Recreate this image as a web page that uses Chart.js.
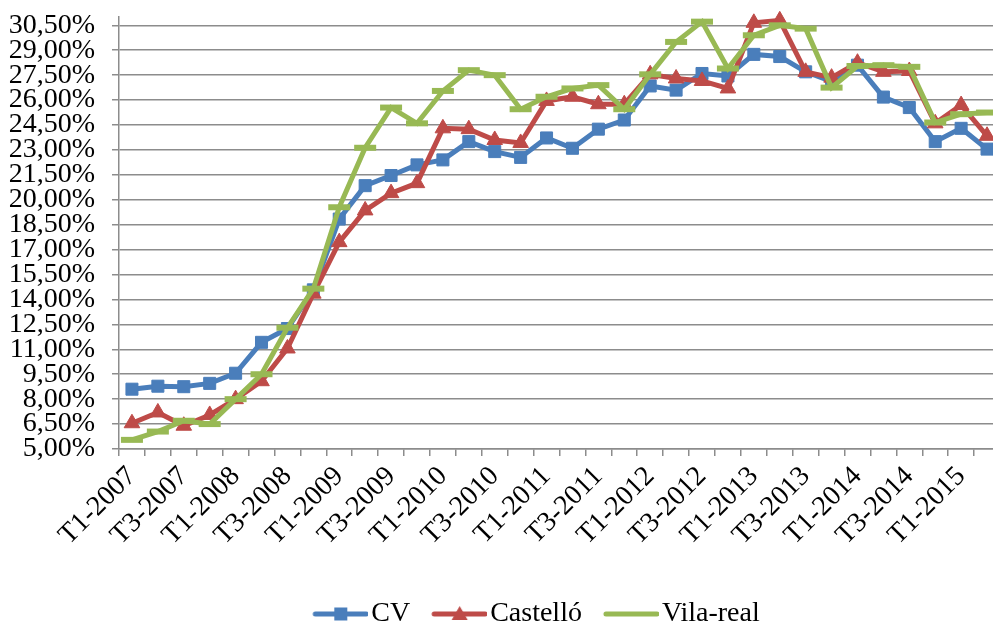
<!DOCTYPE html>
<html>
<head>
<meta charset="utf-8">
<script src="https://cdn.jsdelivr.net/npm/chart.js@4"></script>
<style>
  html, body { margin: 0; padding: 0; background: #fff; overflow: hidden; }
  #wrap { position: absolute; left: 0; top: 0; width: 1017px; height: 624px; }
</style>
</head>
<body>
<div id="wrap"><canvas id="chart" width="1017" height="624"></canvas></div>
<script>
var quarters = [
    "T1-2007", "T2-2007", "T3-2007", "T4-2007",
    "T1-2008", "T2-2008", "T3-2008", "T4-2008",
    "T1-2009", "T2-2009", "T3-2009", "T4-2009",
    "T1-2010", "T2-2010", "T3-2010", "T4-2010",
    "T1-2011", "T2-2011", "T3-2011", "T4-2011",
    "T1-2012", "T2-2012", "T3-2012", "T4-2012",
    "T1-2013", "T2-2013", "T3-2013", "T4-2013",
    "T1-2014", "T2-2014", "T3-2014", "T4-2014",
    "T1-2015", "T2-2015"
];

var cvData = [8.60, 8.78, 8.75, 8.95, 9.56, 11.42, 12.25, 14.58, 18.84, 20.85, 21.46, 22.10,
    22.40, 23.50, 22.90, 22.55, 23.72, 23.10, 24.25, 24.80, 26.85, 26.60, 27.60, 27.45,
    28.75, 28.62, 27.70, 27.12, 28.10, 26.18, 25.55, 23.50, 24.30, 23.05];

var castelloData = [6.55, 7.20, 6.40, 7.05, 8.00, 9.08, 11.05, 14.35, 17.45, 19.36, 20.40, 21.00,
    24.30, 24.25, 23.60, 23.42, 25.95, 26.20, 25.75, 25.75, 27.55, 27.30, 27.15, 26.70,
    30.65, 30.80, 27.70, 27.35, 28.25, 27.70, 27.75, 24.60, 25.70, 23.85];

var vilaData = [5.55, 6.05, 6.70, 6.50, 8.00, 9.50, 12.30, 14.65, 19.55, 23.13, 25.55, 24.60,
    26.55, 27.80, 27.50, 25.45, 26.20, 26.70, 26.90, 25.45, 27.55, 29.50, 30.72, 27.90,
    29.90, 30.50, 30.30, 26.75, 28.05, 28.10, 28.00, 24.65, 25.15, 25.25];

var yTicks = [5, 6.5, 8, 9.5, 11, 12.5, 14, 15.5, 17, 18.5, 20, 21.5, 23, 24.5, 26, 27.5, 29, 30.5];

var blue = "#4A7EBB";
var red = "#BE4B48";
var green = "#98B954";
var serif = "'Liberation Serif', 'Times New Roman', serif";

// legend swatch: line with the marker in the middle
function swatch(color, marker) {
    var c = document.createElement("canvas");
    c.width = 66;
    c.height = 22;
    var g = c.getContext("2d");
    g.strokeStyle = color;
    g.fillStyle = color;
    g.lineWidth = 5;
    g.lineCap = "round";
    g.beginPath();
    g.moveTo(13, 11);
    g.lineTo(64, 11);
    g.stroke();
    var cx = 38.5;
    if (marker === "rect") {
        g.fillRect(cx - 6.5, 11 - 6.5, 13, 13);
    } else if (marker === "triangle") {
        g.beginPath();
        g.moveTo(cx, 3);
        g.lineTo(cx + 8, 17);
        g.lineTo(cx - 8, 17);
        g.closePath();
        g.fill();
    }
    return c;
}

var legendShift = {
    id: "legendShift",
    afterLayout: function (chart) {
        var l = chart.legend;
        l.left += 28;
        l.right += 28;
        l.top += 14;
        l.bottom += 14;
    }
};

var markers = ["rect", "triangle", "line"];

new Chart(document.getElementById("chart"), {
    type: "line",
    data: {
        labels: quarters,
        datasets: [{
            label: "CV",
            data: cvData,
            borderColor: blue,
            backgroundColor: blue,
            borderWidth: 5,
            pointStyle: "rect",
            pointRadius: 8.5,
            pointBorderWidth: 1,
            order: 3,
            clip: false
        }, {
            label: "Castelló",
            data: castelloData,
            borderColor: red,
            backgroundColor: red,
            borderWidth: 5,
            pointStyle: "triangle",
            pointRadius: 9,
            pointBorderWidth: 1,
            order: 2,
            clip: false
        }, {
            label: "Vila-real",
            data: vilaData,
            borderColor: green,
            backgroundColor: green,
            borderWidth: 5,
            pointStyle: "line",
            pointRadius: 11,
            pointBorderWidth: 6,
            order: 1,
            clip: false
        }]
    },
    options: {
        responsive: false,
        animation: false,
        devicePixelRatio: 1,
        layout: { padding: { top: 13, left: 0, right: 0, bottom: 0 } },
        plugins: {
            tooltip: { enabled: false },
            legend: {
                position: "bottom",
                labels: {
                    font: { family: serif, size: 28 },
                    color: "#000",
                    usePointStyle: true,
                    pointStyleWidth: 44,
                    boxHeight: 28,
                    padding: 22,
                    generateLabels: function (chart) {
                        return chart.data.datasets.map(function (ds, i) {
                            return {
                                text: ds.label,
                                fillStyle: ds.borderColor,
                                strokeStyle: ds.borderColor,
                                lineWidth: 0,
                                fontColor: "#000",
                                pointStyle: swatch(ds.borderColor, markers[i]),
                                datasetIndex: i,
                                hidden: false
                            };
                        });
                    }
                }
            }
        },
        scales: {
            x: {
                offset: true,
                grid: {
                    offset: true,
                    drawOnChartArea: false,
                    drawTicks: true,
                    tickLength: 7,
                    color: "#8c8c8c",
                    lineWidth: 1.5
                },
                border: { color: "#8c8c8c", width: 1.5 },
                ticks: {
                    autoSkip: false,
                    maxRotation: 45,
                    minRotation: 45,
                    padding: 4,
                    color: "#000",
                    font: { family: serif, size: 28 },
                    callback: function (val, i) {
                        return i % 2 === 0 ? quarters[i] : "";
                    }
                },
                afterFit: function (s) {
                    s.height = 115;
                    s.paddingLeft = 0;
                    s.paddingRight = 0;
                }
            },
            y: {
                min: 5,
                max: 31,
                afterBuildTicks: function (s) {
                    s.ticks = yTicks.map(function (v) { return { value: v }; });
                },
                grid: {
                    color: "#8c8c8c",
                    lineWidth: 1.5,
                    tickLength: 7
                },
                border: { color: "#8c8c8c", width: 1.5 },
                ticks: {
                    autoSkip: false,
                    padding: 17,
                    color: "#000",
                    font: { family: serif, size: 28 },
                    callback: function (v) {
                        return v.toFixed(2).replace(".", ",") + "%";
                    }
                },
                afterFit: function (s) {
                    s.width = 119;
                    s.paddingTop = 0;
                    s.paddingBottom = 0;
                }
            }
        }
    },
    plugins: [legendShift]
});
</script>
</body>
</html>
